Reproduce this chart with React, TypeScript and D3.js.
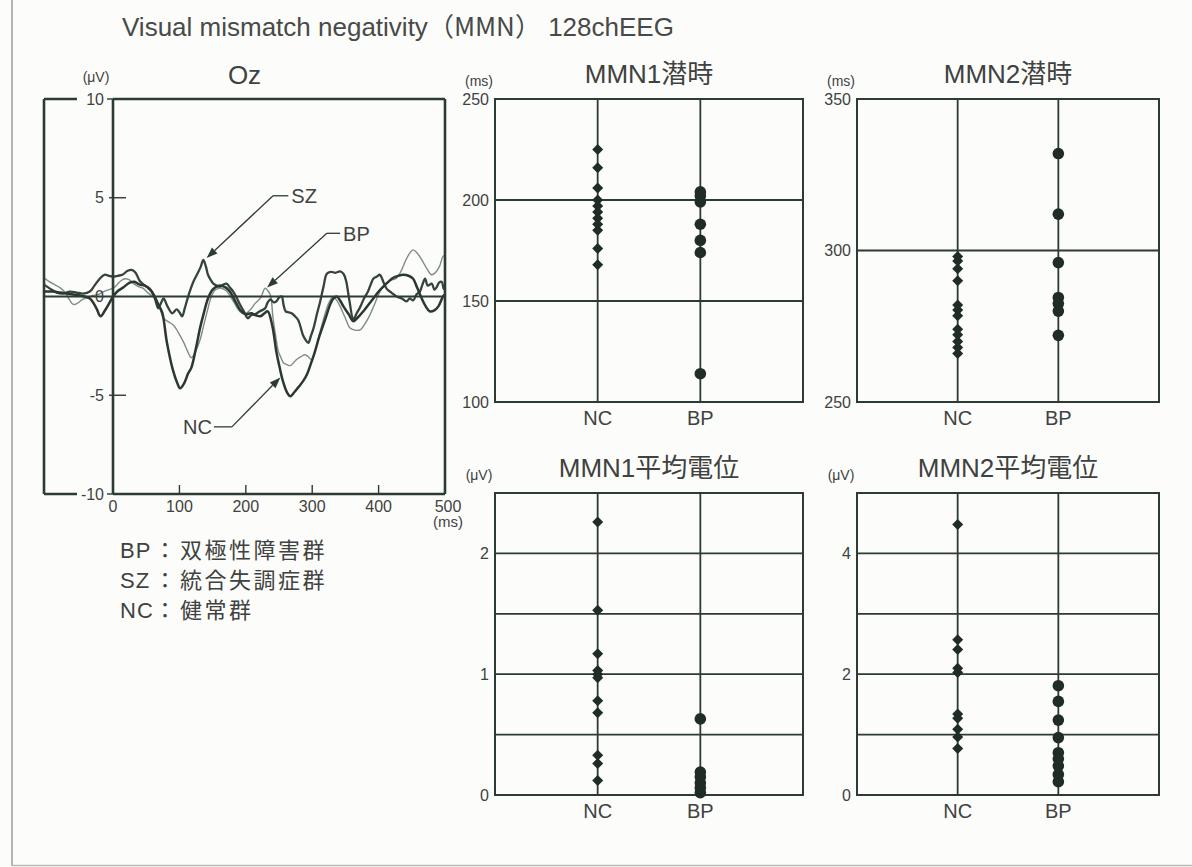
import React from "react";
import * as d3 from "d3";

// ---- data ----
// Oz grand-average waveforms: [time ms, amplitude µV]
const ncWave: [number, number][] = [
  [-104, 0.25], [-90, 0.25], [-80, 0.2], [-70, 0.15], [-60, 0.1], [-50, 0.05], [-35, -0.1], [-25, -0.6],
  [-19, -1.0], [-12, -0.7], [-5, -0.3], [0, 0], [8, 0.3], [15, 0.45], [25, 0.7], [32, 0.75], [40, 0.6],
  [48, 0.55], [55, 0.4], [62, 0.05], [68, -0.4], [74, -0.8], [81, -2.3], [90, -3.7], [97, -4.4],
  [101, -4.65], [107, -4.4], [113, -3.9], [118, -3.6], [125, -2.6], [131, -1.6], [137, -0.8], [143, -0.1],
  [150, 0.35], [156, 0.5], [163, 0.55], [170, 0.45], [177, 0.2], [185, -0.3], [192, -0.7], [200, -0.9],
  [208, -0.85], [215, -0.95], [222, -1.0], [228, -0.85], [233, -0.75], [240, -1.5], [246, -2.8],
  [251, -3.6], [256, -4.3], [262, -4.85], [267, -5.05], [273, -4.85], [279, -4.6], [286, -4.3],
  [292, -3.95], [298, -3.4], [304, -2.8], [310, -2.1], [317, -1.4], [322, -0.9], [327, -0.4], [332, -0.1],
  [337, 0], [342, -0.2], [347, -0.5], [355, -0.9], [362, -1.25], [369, -1.05], [377, -0.75], [385, -0.4],
  [392, -0.1], [400, 0.25], [407, 0.5], [415, 0.75], [422, 0.95], [430, 1.05], [437, 1.1], [445, 1.05],
  [452, 0.9], [458, 0.45], [465, -0.1], [471, -0.5], [477, -0.75], [484, -0.7], [490, -0.5], [497, 0],
  [500, 0.1],
];

const szWave: [number, number][] = [
  [-104, 0.6], [-95, 0.4], [-85, 0.2], [-75, 0.15], [-65, 0.25], [-55, 0.2], [-45, 0.15], [-35, 0.25],
  [-28, 0.55], [-20, 0.9], [-13, 1.1], [-6, 1.05], [0, 1.0], [7, 1.05], [14, 1.1], [22, 1.3], [28, 1.35],
  [34, 1.2], [40, 0.8], [46, 0.6], [52, 0.45], [58, 0.25], [63, -0.1], [68, -0.6], [72, -0.35], [76, -0.1],
  [82, -0.5], [89, -0.85], [96, -0.65], [100, -0.8], [104, -1.0], [108, -0.6], [111, -0.25], [116, 0.3],
  [121, 0.75], [127, 1.15], [132, 1.5], [136, 1.85], [140, 1.5], [143, 1.1], [147, 0.85], [151, 0.65],
  [156, 0.55], [161, 0.5], [166, 0.6], [171, 0.65], [176, 0.45], [181, 0.25], [186, -0.05], [191, -0.4],
  [197, -0.75], [203, -1.1], [208, -0.95], [214, -0.9], [221, -0.75], [229, -0.6], [233, -0.3],
  [237, -0.15], [242, -0.3], [246, -0.25], [250, -0.05], [254, 0], [257, -0.45], [260, -0.75], [265, -0.8],
  [269, -0.85], [274, -1.0], [279, -1.2], [286, -1.95], [290, -2.2], [294, -2.35], [298, -2.0], [302, -1.6],
  [307, -0.9], [312, -0.25], [317, 0.5], [322, 1.15], [328, 1.25], [335, 1.2], [342, 1.27], [347, 1.15],
  [351, 0.8], [356, -0.2], [362, -1.15], [367, -0.85], [372, -0.55], [378, -0.1], [384, 0.25], [388, 0.6],
  [392, 0.9], [397, 1.0], [402, 1.1], [407, 0.75], [412, 0.4], [419, 0.2], [427, 0.0], [435, -0.1],
  [442, -0.25], [447, -0.1], [452, -0.2], [457, 0.1], [462, 0.25], [466, 0.6], [470, 0.9], [474, 0.55],
  [480, 0.65], [484, 0.35], [487, 0.45], [491, 0.7], [495, 0.75], [498, 0.4], [500, 0.35],
];

const bpWave: [number, number][] = [
  [-104, 0.95], [-96, 0.75], [-88, 0.6], [-80, 0.45], [-72, 0.2], [-66, -0.15], [-60, -0.4], [-54, -0.35],
  [-46, -0.15], [-38, -0.05], [-30, 0.05], [-22, 0.1], [-14, 0.25], [-6, 0.35], [0, 0.42], [6, 0.6],
  [12, 0.8], [18, 0.9], [24, 0.85], [31, 0.65], [38, 0.5], [45, 0.42], [52, 0.2], [58, 0.05], [64, -0.1],
  [70, -0.55], [76, -1.1], [84, -1.3], [91, -1.45], [98, -1.8], [106, -2.3], [112, -2.75], [118, -3.1],
  [124, -2.8], [131, -2.2], [137, -1.4], [143, -0.6], [148, 0.0], [153, 0.3], [158, 0.4], [163, 0.42],
  [170, 0.3], [176, 0.05], [183, -0.35], [191, -0.76], [198, -0.9], [206, -0.7], [214, -0.35],
  [222, -0.08], [229, 0.42], [233, 0.3], [237, 0.08], [241, -1.1], [245, -2.0], [249, -2.78], [253, -3.1],
  [257, -3.37], [262, -3.45], [267, -3.5], [272, -3.35], [276, -3.2], [283, -3.05], [289, -2.95],
  [294, -3.05], [299, -3.2], [304, -2.8], [308, -2.3], [312, -1.77], [317, -1.15], [322, -0.59],
  [327, -0.2], [332, 0], [337, -0.2], [342, -0.5], [350, -1.1], [357, -1.6], [364, -1.7], [372, -1.69],
  [380, -1.35], [387, -0.93], [395, -0.3], [402, 0.25], [408, 0.55], [415, 0.76], [421, 0.85], [427, 0.93],
  [434, 1.3], [440, 1.77], [446, 2.15], [452, 2.36], [458, 2.2], [465, 1.86], [472, 1.45], [480, 1.1],
  [487, 1.27], [492, 1.55], [497, 2.03], [500, 2.1],
];

const ozYTicks = [10, 5, 0, -5, -10];
const ozXTicks = [0, 100, 200, 300, 400, 500];

// arrow labels on the Oz plot, in data units [ms, µV]
const ozNotes = [
  { label: "SZ", tip: [141, 1.95], knee: [241, 5.1], end: [264, 5.1], side: "right" },
  { label: "BP", tip: [232, 0.45], knee: [322, 3.2], end: [342, 3.2], side: "right" },
  { label: "NC", tip: [252, -4.1], knee: [179, -6.6], end: [152, -6.6], side: "left" },
];

const groups = ["NC", "BP"];

// MMN1 latency (ms)
const mmn1LatNC = [225, 216, 206, 200, 197, 194, 191, 188, 185, 176, 168];
const mmn1LatBP = [204, 202, 199, 188, 180, 174, 114];
// MMN2 latency (ms)
const mmn2LatNC = [298, 296.5, 294, 290, 282, 280.4, 278.5, 274, 272.2, 270, 268, 266];
const mmn2LatBP = [332, 312, 296, 284.5, 282.5, 280, 272];
// MMN1 mean amplitude (µV)
const mmn1AmpNC = [2.26, 1.53, 1.17, 1.03, 1.0, 0.97, 0.78, 0.68, 0.33, 0.26, 0.12];
const mmn1AmpBP = [0.63, 0.19, 0.15, 0.1, 0.06, 0.02];
// MMN2 mean amplitude (µV)
const mmn2AmpNC = [4.48, 2.57, 2.41, 2.1, 2.03, 1.34, 1.27, 1.09, 0.96, 0.77];
const mmn2AmpBP = [1.81, 1.55, 1.24, 0.95, 0.7, 0.6, 0.48, 0.34, 0.22];

const legendRows = [
  ["BP", "双極性障害群"],
  ["SZ", "統合失調症群"],
  ["NC", "健常群"],
];

const INK = "#2c3b33";
const TEXT = "#3e4240";
const FONT = "'Liberation Sans', Arial, 'Noto Sans CJK JP', sans-serif";

function Arrow({ x1, y1, x2, y2 }) {
  // line from (x1,y1) ending with a filled head at (x2,y2)
  const dx = x2 - x1, dy = y2 - y1;
  const len = Math.sqrt(dx * dx + dy * dy);
  const ux = dx / len, uy = dy / len;
  const hl = 11, hw = 4;
  const bx = x2 - ux * hl, by = y2 - uy * hl;
  const pts = [
    [x2, y2],
    [bx - uy * hw, by + ux * hw],
    [bx + uy * hw, by - ux * hw],
  ];
  return (
    <g>
      <line x1={x1} y1={y1} x2={bx} y2={by} stroke={INK} strokeWidth={1.3} />
      <polygon points={pts.map((p) => p.join(",")).join(" ")} fill={INK} />
    </g>
  );
}

function OzPlot() {
  const left = 44, axisX = 113, right = 445, top = 99, bottom = 494;
  const x = d3.scaleLinear().domain([-104, 500]).range([left, right]);
  const y = d3.scaleLinear().domain([-10, 10]).range([bottom, top]);
  const line = d3
    .line<[number, number]>()
    .x((d) => x(d[0]))
    .y((d) => y(d[1]))
    .curve(d3.curveCatmullRom.alpha(0.5));

  return (
    <g fontFamily={FONT}>
      <text x={(left + right) / 2} y={84} textAnchor="middle" fontSize={26} fill={TEXT}>
        Oz
      </text>
      <text x={96} y={82} textAnchor="middle" fontSize={14} fill={TEXT}>
        (μV)
      </text>

      {/* waveforms */}
      <path d={line(bpWave) || ""} fill="none" stroke="#7f8c85" strokeWidth={1.4} />
      <path d={line(szWave) || ""} fill="none" stroke="#34443b" strokeWidth={2.3} />
      <path d={line(ncWave) || ""} fill="none" stroke="#2a3831" strokeWidth={2.5} />

      {/* frame */}
      <g stroke={INK} strokeWidth={2.6} fill="none">
        <line x1={left} y1={top} x2={77} y2={top} />
        <line x1={left} y1={bottom} x2={77} y2={bottom} />
        <line x1={left} y1={top} x2={left} y2={bottom} />
        <line x1={axisX} y1={top} x2={right} y2={top} />
        <line x1={axisX} y1={bottom} x2={right} y2={bottom} />
        <line x1={right} y1={top} x2={right} y2={bottom} />
        <line x1={axisX} y1={top} x2={axisX} y2={bottom} />
      </g>
      <line x1={left} y1={y(0)} x2={right} y2={y(0)} stroke={INK} strokeWidth={2} />

      {/* y ticks */}
      {ozYTicks.map((v) => (
        <g key={v}>
          {v !== 10 && v !== -10 && v !== 0 && (
            <line x1={axisX - 4} x2={axisX + 13} y1={y(v)} y2={y(v)} stroke={INK} strokeWidth={1.4} />
          )}
          {(v === 10 || v === -10) && (
            <line x1={axisX - 6} x2={axisX} y1={y(v)} y2={y(v)} stroke={INK} strokeWidth={1.4} />
          )}
          <text x={axisX - 9} y={y(v)} dy="0.35em" textAnchor="end" fontSize={16} fill={TEXT}>
            {v}
          </text>
        </g>
      ))}

      {/* x ticks */}
      {ozXTicks.map((t) => (
        <g key={t}>
          {t > 0 && t < 500 && (
            <line x1={x(t)} x2={x(t)} y1={bottom} y2={bottom - 9} stroke={INK} strokeWidth={1.4} />
          )}
          <text x={t === 500 ? x(t) + 3 : x(t)} y={512} textAnchor="middle" fontSize={16} fill={TEXT}>
            {t}
          </text>
        </g>
      ))}
      <text x={x(500) + 3} y={527} textAnchor="middle" fontSize={15} fill={TEXT}>
        (ms)
      </text>

      {/* arrow notes */}
      {ozNotes.map((n) => (
        <g key={n.label}>
          <line x1={x(n.end[0])} y1={y(n.end[1])} x2={x(n.knee[0])} y2={y(n.knee[1])} stroke={INK} strokeWidth={1.3} />
          <Arrow x1={x(n.knee[0])} y1={y(n.knee[1])} x2={x(n.tip[0])} y2={y(n.tip[1])} />
          <text
            x={n.side === "right" ? x(n.end[0]) + 3 : x(n.end[0]) - 2}
            y={y(n.end[1])}
            dy="0.36em"
            textAnchor={n.side === "right" ? "start" : "end"}
            fontSize={20}
            fill={TEXT}
          >
            {n.label}
          </text>
        </g>
      ))}
    </g>
  );
}

function DotPanel({ title, unit, left, right, top, bottom, domain, grid, ticks, nc, bp }) {
  const x = d3.scalePoint().domain(groups).range([left, right]).padding(1);
  const y = d3.scaleLinear().domain(domain).range([bottom, top]);
  const diamond = (cx, cy) => `M${cx},${cy - 5.5}L${cx + 5.5},${cy}L${cx},${cy + 5.5}L${cx - 5.5},${cy}Z`;
  return (
    <g fontFamily={FONT}>
      <text x={(left + right) / 2} y={top - 16} textAnchor="middle" fontSize={26} fill={TEXT}>
        {title}
      </text>
      <text x={left - 16} y={top - 13} textAnchor="middle" fontSize={14} fill={TEXT}>
        {unit}
      </text>
      <rect x={left} y={top} width={right - left} height={bottom - top} fill="none" stroke={INK} strokeWidth={2} />
      {grid.map((g) => (
        <line key={g} x1={left} x2={right} y1={y(g)} y2={y(g)} stroke={INK} strokeWidth={1.8} />
      ))}
      {groups.map((gname) => (
        <g key={gname}>
          <line x1={x(gname)} x2={x(gname)} y1={top} y2={bottom} stroke={INK} strokeWidth={1.8} />
          <text x={x(gname)} y={bottom + 23} textAnchor="middle" fontSize={20} fill={TEXT}>
            {gname}
          </text>
        </g>
      ))}
      {ticks.map((t) => (
        <text key={t} x={left - 6} y={y(t)} dy="0.35em" textAnchor="end" fontSize={16} fill={TEXT}>
          {t}
        </text>
      ))}
      {nc.map((v, i) => (
        <path key={"n" + i} d={diamond(x("NC"), y(v))} fill="#1f2d26" />
      ))}
      {bp.map((v, i) => (
        <circle key={"b" + i} cx={x("BP")} cy={y(v)} r={5.8} fill="#1f2d26" />
      ))}
    </g>
  );
}

export default function App() {
  const W = 1192, H = 867;
  return (
    <svg
      width={W}
      height={H}
      style={{ position: "absolute", left: 0, top: 0, background: "#fcfcfa" }}
    >
      <line x1={12} y1={0} x2={12} y2={866} stroke="#9c9c9a" strokeWidth={1.5} />
      <line x1={12} y1={865.5} x2={W} y2={865.5} stroke="#b8b8b6" strokeWidth={1.5} />

      <text x={122} y={36} fontSize={26} fill="#474a48" fontFamily={FONT}>
        Visual mismatch negativity
        <tspan fontFamily="'Noto Sans CJK JP'">（MMN）</tspan> 128chEEG
      </text>

      <OzPlot />

      <DotPanel
        title="MMN1潜時" unit="(ms)" left={495} right={803} top={99} bottom={402}
        domain={[100, 250]} grid={[150, 200]} ticks={[100, 150, 200, 250]}
        nc={mmn1LatNC} bp={mmn1LatBP}
      />
      <DotPanel
        title="MMN2潜時" unit="(ms)" left={857} right={1159} top={99} bottom={402}
        domain={[250, 350]} grid={[300]} ticks={[250, 300, 350]}
        nc={mmn2LatNC} bp={mmn2LatBP}
      />
      <DotPanel
        title="MMN1平均電位" unit="(μV)" left={495} right={803} top={493} bottom={795}
        domain={[0, 2.5]} grid={[0.5, 1, 1.5, 2]} ticks={[0, 1, 2]}
        nc={mmn1AmpNC} bp={mmn1AmpBP}
      />
      <DotPanel
        title="MMN2平均電位" unit="(μV)" left={857} right={1159} top={493} bottom={795}
        domain={[0, 5]} grid={[1, 2, 3, 4]} ticks={[0, 2, 4]}
        nc={mmn2AmpNC} bp={mmn2AmpBP}
      />

      <g fontFamily={FONT} fontSize={22} fill={TEXT}>
        {legendRows.map((r, i) => (
          <g key={r[0]}>
            <text x={120} y={558 + i * 30} letterSpacing={1}>{r[0]}</text>
            <text x={165} y={558 + i * 30} textAnchor="middle" fontFamily="'Noto Sans CJK JP'">：</text>
            <text x={180} y={558 + i * 30} letterSpacing={2.5} fontFamily="'Noto Sans CJK JP'">{r[1]}</text>
          </g>
        ))}
      </g>
    </svg>
  );
}
